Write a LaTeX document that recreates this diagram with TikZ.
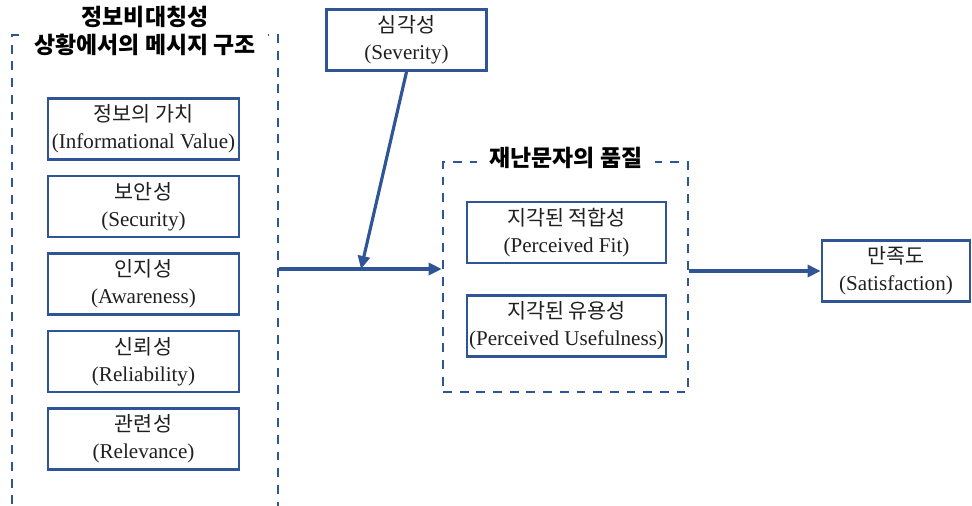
\documentclass[tikz,border=0pt]{standalone}
\usepackage{fontspec}
\setmainfont{Liberation Serif}
\newfontfamily\kr{Noto Sans CJK KR}[Scale=0.98]
\usetikzlibrary{positioning,arrows.meta}
\definecolor{navy}{RGB}{47,85,151}
\begin{document}
\begin{tikzpicture}[x=0.02cm,y=-0.02cm,
  box/.style={draw=navy,line width=1.6pt,minimum height=1.22cm,align=center,inner sep=1pt,
    text=black!88,font=\fontsize{12}{15.3}\selectfont},
  grp/.style={draw=navy,line width=1.5pt,dash pattern=on 5pt off 4.5pt,inner sep=0pt},
  ttl/.style={fill=white,align=center,inner ysep=1pt,font=\kr\bfseries\fontsize{13.3}{16}\selectfont},
  link/.style={draw=navy,line width=1.8pt,-{Triangle[length=2.6mm,width=2.4mm]}}]
\useasboundingbox (0,0) rectangle (972,505);
% dashed groups
\node[grp,minimum width=5.32cm,minimum height=10.2cm] (msg) at (145,290) {};
\node[grp,minimum width=4.9cm,minimum height=4.6cm] (qual) at (565.5,277) {};
\node[ttl,inner xsep=7pt] (msgT) at (145,31) {정보비대칭성\\상황에서의 메시지 구조};
\node[ttl,inner xsep=7pt] (qualT) at (566,158) {재난문자의 품질};
% message structure
\foreach \kor/\eng [count=\i from 0] in {정보의 가치/Informational Value,보안성/Security,
  인지성/Awareness,신뢰성/Reliability,관련성/Relevance}
  \node[box,minimum width=3.82cm] (m\i) at (143.5,129+77.5*\i) {{\kr \kor}\\(\eng)};
% other boxes
\node[box,minimum width=3.2cm] (sev) at (406.5,40) {{\kr 심각성}\\(Severity)};
\node[box,minimum width=3.98cm] (fit) at (566.5,232.5) {{\kr 지각된 적합성}\\(Perceived Fit)};
\node[box,minimum width=3.98cm] (use) at (566.5,326) {{\kr 지각된 유용성}\\(Perceived Usefulness)};
\node[box,minimum width=2.96cm] (sat) at (896,271) {{\kr 만족도}\\(Satisfaction)};
% paths
\coordinate (join) at (361,269);
\draw[link] (msg.east |- join) -- (qual.west |- join);
\draw[link] (sev.south) -- (join);
\draw[link] (qual.east |- sat.west) -- (sat.west);
\end{tikzpicture}
\end{document}
